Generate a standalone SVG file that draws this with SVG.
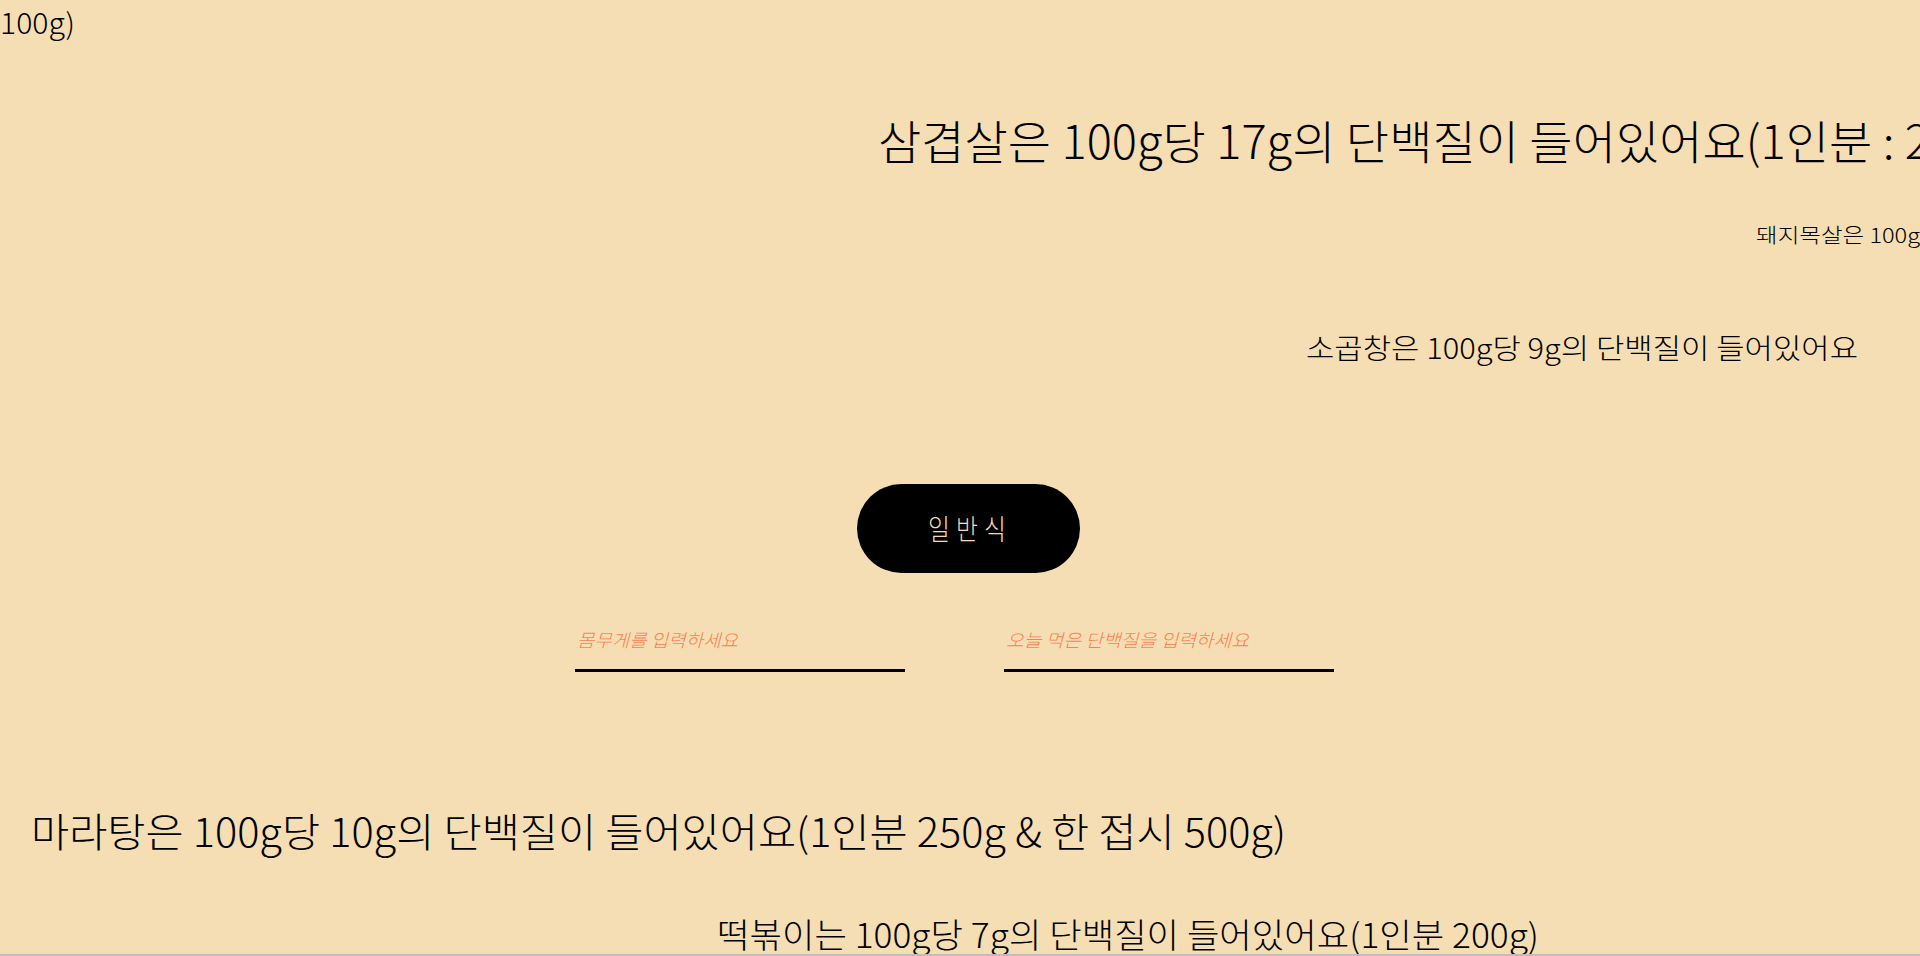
<svg xmlns="http://www.w3.org/2000/svg" width="1920" height="956" viewBox="0 0 1920 956">
  <style>
    .t { font-family: "Noto Sans CJK KR", "Noto Sans", sans-serif; fill: #000000; font-weight: 300; }
    .ph { font-family: "Noto Sans CJK KR", "Noto Sans", sans-serif; fill: #FF7F50; font-style: italic; font-size: 18px; font-weight: 300; }
    .uline { fill: #000000; }
    .btn { fill: #000000; }
    .btnt { font-family: "Noto Sans CJK KR", "Noto Sans", sans-serif; fill: #F5DEB3; font-size: 28px; font-weight: 300; }
  </style>
  <rect x="0" y="0" width="1920" height="956" fill="#F5DEB3"/>

  <g id="text-top-tail">
    <text class="t" x="0" y="34" font-size="29" textLength="75" lengthAdjust="spacingAndGlyphs">100g)</text>
  </g>
  <g id="text-samgyeopsal">
    <text class="t" x="878" y="159" font-size="46" textLength="1052" lengthAdjust="spacingAndGlyphs">삼겹살은 100g당 17g의 단백질이 들어있어요(1인분 : 2</text>
  </g>
  <g id="text-moksal">
    <text class="t" x="1756" y="243" font-size="20" textLength="164" lengthAdjust="spacingAndGlyphs" fill="#222">돼지목살은 100g</text>
  </g>
  <g id="text-gopchang">
    <text class="t" x="1306" y="359" font-size="28" textLength="552" lengthAdjust="spacingAndGlyphs">소곱창은 100g당 9g의 단백질이 들어있어요</text>
  </g>

  <g id="button-general">
    <rect class="btn" x="857" y="484" width="223" height="89" rx="44.5" ry="44.5"/>
    <text class="btnt" transform="translate(928,540) scale(0.85,1)" x="0 33 66" y="0">일반식</text>
  </g>

  <g id="input-weight">
    <text class="ph" x="577" y="647" textLength="161" lengthAdjust="spacingAndGlyphs">몸무게를 입력하세요</text>
    <rect class="uline" x="575" y="669" width="330" height="3"/>
  </g>
  <g id="input-protein">
    <text class="ph" x="1006" y="647" textLength="243" lengthAdjust="spacingAndGlyphs">오늘 먹은 단백질을 입력하세요</text>
    <rect class="uline" x="1004" y="669" width="330" height="3"/>
  </g>

  <g id="text-malatang">
    <text class="t" x="31" y="847" font-size="40" textLength="1255" lengthAdjust="spacingAndGlyphs">마라탕은 100g당 10g의 단백질이 들어있어요(1인분 250g &amp; 한 접시 500g)</text>
  </g>
  <g id="text-tteokbokki">
    <text class="t" x="717" y="948" font-size="34" textLength="822" lengthAdjust="spacingAndGlyphs">떡볶이는 100g당 7g의 단백질이 들어있어요(1인분 200g)</text>
  </g>

  <g id="connectors"></g>

  <rect x="0" y="954" width="1920" height="2" fill="#BDBDBD"/>
</svg>
